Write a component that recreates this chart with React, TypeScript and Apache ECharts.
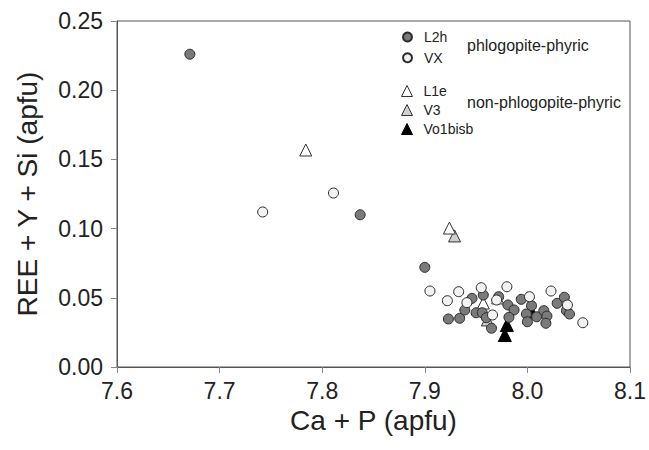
import React, { useEffect, useRef } from "react";
import * as echarts from "echarts";

const xTicks = [7.6, 7.7, 7.8, 7.9, 8.0, 8.1];
const yTicks = [0.0, 0.05, 0.1, 0.15, 0.2, 0.25];

const seriesNames = ["L2h", "VX", "L1e", "V3", "Vo1bisb"];
const groupLabels = ["phlogopite-phyric", "non-phlogopite-phyric"];

const L2h: [number, number][] = [
  [7.671, 0.226], [7.837, 0.110], [7.900, 0.072],
  [7.923, 0.0347], [7.934, 0.0352], [7.939, 0.0412], [7.946, 0.0496],
  [7.950, 0.0392], [7.957, 0.0520], [7.956, 0.0392], [7.960, 0.0356],
  [7.965, 0.0280], [7.972, 0.0508], [7.981, 0.0448], [7.987, 0.0412],
  [7.982, 0.0359], [7.994, 0.0489], [8.004, 0.0443], [7.999, 0.0383],
  [8.000, 0.0327], [8.009, 0.0363], [8.016, 0.0407], [8.019, 0.0368],
  [8.018, 0.0316], [8.029, 0.0460], [8.036, 0.0504], [8.038, 0.0407],
  [8.041, 0.0383],
];

const VX: [number, number][] = [
  [7.742, 0.112], [7.811, 0.1257],
  [7.905, 0.0549], [7.922, 0.0479], [7.933, 0.0544], [7.941, 0.0465],
  [7.955, 0.0573], [7.966, 0.0376], [7.970, 0.0484], [7.980, 0.0580],
  [8.002, 0.0508], [8.023, 0.0549], [8.039, 0.0448], [8.054, 0.0320],
];

const L1e: [number, number][] = [
  [7.784, 0.1568], [7.924, 0.1004], [7.957, 0.0462], [7.971, 0.0499],
];

const V3: [number, number][] = [
  [7.929, 0.0947], [7.961, 0.034],
];

const Vo1bisb: [number, number][] = [
  [7.980, 0.0303], [7.978, 0.0231], [8.004, 0.040],
];

const FONT = "'Liberation Sans', Arial, sans-serif";

export default function App() {
  const ref = useRef<HTMLDivElement>(null);
  useEffect(() => {
    if (!ref.current) return;
    const chart = echarts.init(ref.current, undefined, { renderer: "svg" });
    const circleStyle = (fill: string) => ({
      color: fill,
      borderColor: "#2b2b2b",
      borderWidth: 1,
      opacity: 1,
    });
    chart.setOption({
      animation: false,
      backgroundColor: "#ffffff",
      textStyle: { fontFamily: FONT },
      grid: {
        left: 117,
        right: 16,
        top: 21,
        bottom: 83,
        show: true,
        borderColor: "#555555",
        borderWidth: 1,
        backgroundColor: "transparent",
      },
      xAxis: {
        type: "value",
        min: xTicks[0],
        max: xTicks[xTicks.length - 1],
        interval: 0.1,
        name: "Ca + P (apfu)",
        nameLocation: "middle",
        nameGap: 35,
        nameTextStyle: { fontSize: 28, color: "#222", fontFamily: FONT },
        axisLine: { show: true, onZero: false, lineStyle: { color: "#555", width: 1 } },
        axisTick: { show: true, length: 6, lineStyle: { color: "#888" } },
        axisLabel: {
          fontSize: 23,
          color: "#222",
          margin: 12,
          fontFamily: FONT,
          formatter: (v: number) => v.toFixed(1),
        },
        splitLine: { show: false },
      },
      yAxis: {
        type: "value",
        min: yTicks[0],
        max: yTicks[yTicks.length - 1],
        interval: 0.05,
        name: "REE + Y + Si (apfu)",
        nameLocation: "middle",
        nameGap: 76,
        nameRotate: 90,
        nameTextStyle: { fontSize: 28, color: "#222", fontFamily: FONT },
        axisLine: { show: true, onZero: false, lineStyle: { color: "#555", width: 1 } },
        axisTick: { show: true, length: 6, lineStyle: { color: "#888" } },
        axisLabel: {
          fontSize: 23,
          color: "#222",
          margin: 14,
          fontFamily: FONT,
          formatter: (v: number) => v.toFixed(2),
        },
        splitLine: { show: false },
      },
      legend: [
        {
          data: [
            { name: seriesNames[0], icon: "circle" },
            { name: seriesNames[1], icon: "circle" },
          ],
          orient: "vertical",
          left: 397,
          top: 25,
          itemWidth: 9,
          itemHeight: 9,
          itemGap: 6.7,
          selectedMode: false,
          textStyle: {
            fontSize: 14,
            lineHeight: 14,
            color: "#222",
            fontFamily: FONT,
            padding: [0, 0, 0, 7],
          },
        },
        {
          data: [
            { name: seriesNames[2], icon: "triangle", itemStyle: { color: "#ffffff", borderColor: "#333333", borderWidth: 1 } },
            { name: seriesNames[3], icon: "triangle", itemStyle: { color: "#cfcfcf", borderColor: "#333333", borderWidth: 1 } },
            { name: seriesNames[4], icon: "triangle", itemStyle: { color: "#000000", borderColor: "#000000", borderWidth: 1 } },
          ],
          orient: "vertical",
          left: 396,
          top: 79,
          itemWidth: 11,
          itemHeight: 11,
          itemGap: 5,
          selectedMode: false,
          textStyle: {
            fontSize: 14,
            lineHeight: 14,
            color: "#222",
            fontFamily: FONT,
            padding: [0, 0, 0, 6],
          },
        },
      ],
      graphic: [
        {
          type: "text",
          left: 467,
          top: 37,
          style: { text: groupLabels[0], fontSize: 16, fill: "#222", fontFamily: FONT },
        },
        {
          type: "text",
          left: 467,
          top: 94,
          style: { text: groupLabels[1], fontSize: 16, fill: "#222", fontFamily: FONT },
        },
      ],
      series: [
        {
          name: seriesNames[4],
          type: "scatter",
          symbol: "triangle",
          symbolSize: 13,
          z: 2,
          data: Vo1bisb,
          itemStyle: { color: "#000000", borderColor: "#000000", borderWidth: 1, opacity: 1 },
        },
        {
          name: seriesNames[3],
          type: "scatter",
          symbol: "triangle",
          symbolSize: 12,
          z: 3,
          data: V3,
          itemStyle: { color: "#cfcfcf", borderColor: "#333333", borderWidth: 1, opacity: 1 },
        },
        {
          name: seriesNames[2],
          type: "scatter",
          symbol: "triangle",
          symbolSize: 12,
          z: 4,
          data: L1e,
          itemStyle: { color: "#ffffff", borderColor: "#333333", borderWidth: 1, opacity: 1 },
        },
        {
          name: seriesNames[0],
          type: "scatter",
          symbol: "circle",
          symbolSize: 10,
          z: 5,
          data: L2h,
          itemStyle: circleStyle("#7a7a7a"),
        },
        {
          name: seriesNames[1],
          type: "scatter",
          symbol: "circle",
          symbolSize: 10,
          z: 6,
          data: VX,
          itemStyle: circleStyle("#f2f2f2"),
        },
      ],
    });
    return () => chart.dispose();
  }, []);
  return <div ref={ref} style={{ width: 649, height: 450, position: "absolute", left: 0, top: 0 }} />;
}
